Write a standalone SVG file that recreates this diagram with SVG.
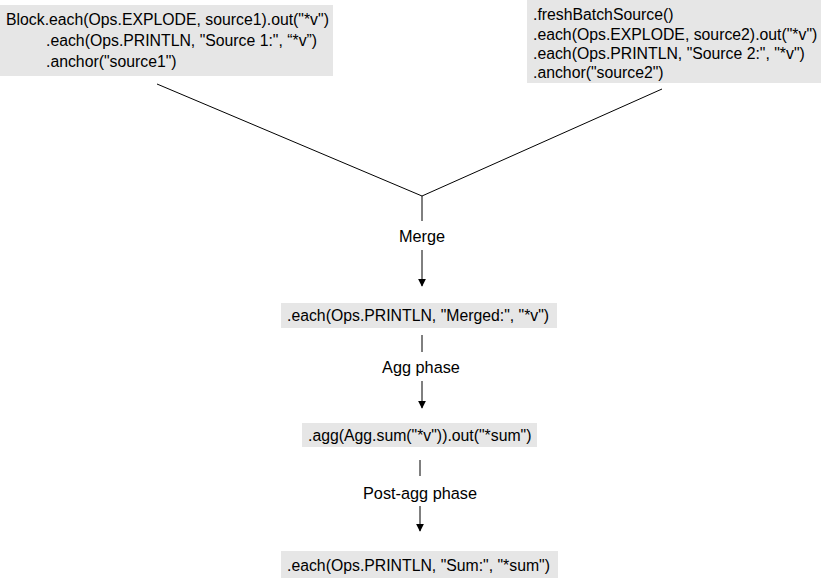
<svg xmlns="http://www.w3.org/2000/svg" width="821" height="580" viewBox="0 0 821 580">
<defs>
<style>
.box{fill:#e6e6e6;stroke:none}
.t{font-family:"Liberation Sans",Arial,sans-serif;font-size:15.8px;fill:#000}
.c{text-anchor:middle;font-size:16.3px}
.ln{stroke:#000;stroke-width:1;fill:none}
</style>
<marker id="ah" viewBox="0 0 10 10" refX="9" refY="5" markerWidth="8" markerHeight="10" markerUnits="userSpaceOnUse" orient="auto"><path d="M0,0 L10,5 L0,10 z" fill="#000"/></marker>
</defs>
<rect width="821" height="580" fill="#fff"/>
<g id="connectors">
<polyline class="ln" points="157,84 422,196 662,89"/>
<line class="ln" x1="422" y1="196" x2="422" y2="221"/>
<line class="ln" x1="422" y1="250" x2="422" y2="286" marker-end="url(#ah)"/>
<line class="ln" x1="422" y1="335" x2="422" y2="352"/>
<line class="ln" x1="422" y1="381" x2="422" y2="408" marker-end="url(#ah)"/>
<line class="ln" x1="420" y1="460" x2="420" y2="476"/>
<line class="ln" x1="420" y1="506" x2="420" y2="531" marker-end="url(#ah)"/>
<text class="t c" x="422" y="242">Merge</text>
<text class="t c" x="421" y="373">Agg phase</text>
<text class="t c" x="420" y="499">Post-agg phase</text>
</g>
<g id="source1">
<rect class="box" x="0" y="5" width="333" height="71"/>
<text class="t" x="6" y="25">Block.each(Ops.EXPLODE, source1).out("*v")</text>
<text class="t" x="46" y="46">.each(Ops.PRINTLN, "Source 1:", “*v”)</text>
<text class="t" x="46" y="67">.anchor("source1")</text>
</g>
<g id="source2">
<rect class="box" x="527" y="0" width="294" height="83"/>
<text class="t" x="533" y="20">.freshBatchSource()</text>
<text class="t" x="533" y="40">.each(Ops.EXPLODE, source2).out("*v")</text>
<text class="t" x="533" y="59">.each(Ops.PRINTLN, "Source 2:", "*v")</text>
<text class="t" x="533" y="78">.anchor("source2")</text>
</g>
<g id="merged">
<rect class="box" x="281" y="303" width="276" height="25"/>
<text class="t" x="287" y="321">.each(Ops.PRINTLN, "Merged:", "*v")</text>
</g>
<g id="agg">
<rect class="box" x="302" y="423" width="235" height="24"/>
<text class="t" x="308" y="441">.agg(Agg.sum("*v")).out("*sum")</text>
</g>
<g id="sum">
<rect class="box" x="281" y="551" width="277" height="27"/>
<text class="t" x="287" y="571">.each(Ops.PRINTLN, "Sum:", "*sum")</text>
</g>
</svg>
